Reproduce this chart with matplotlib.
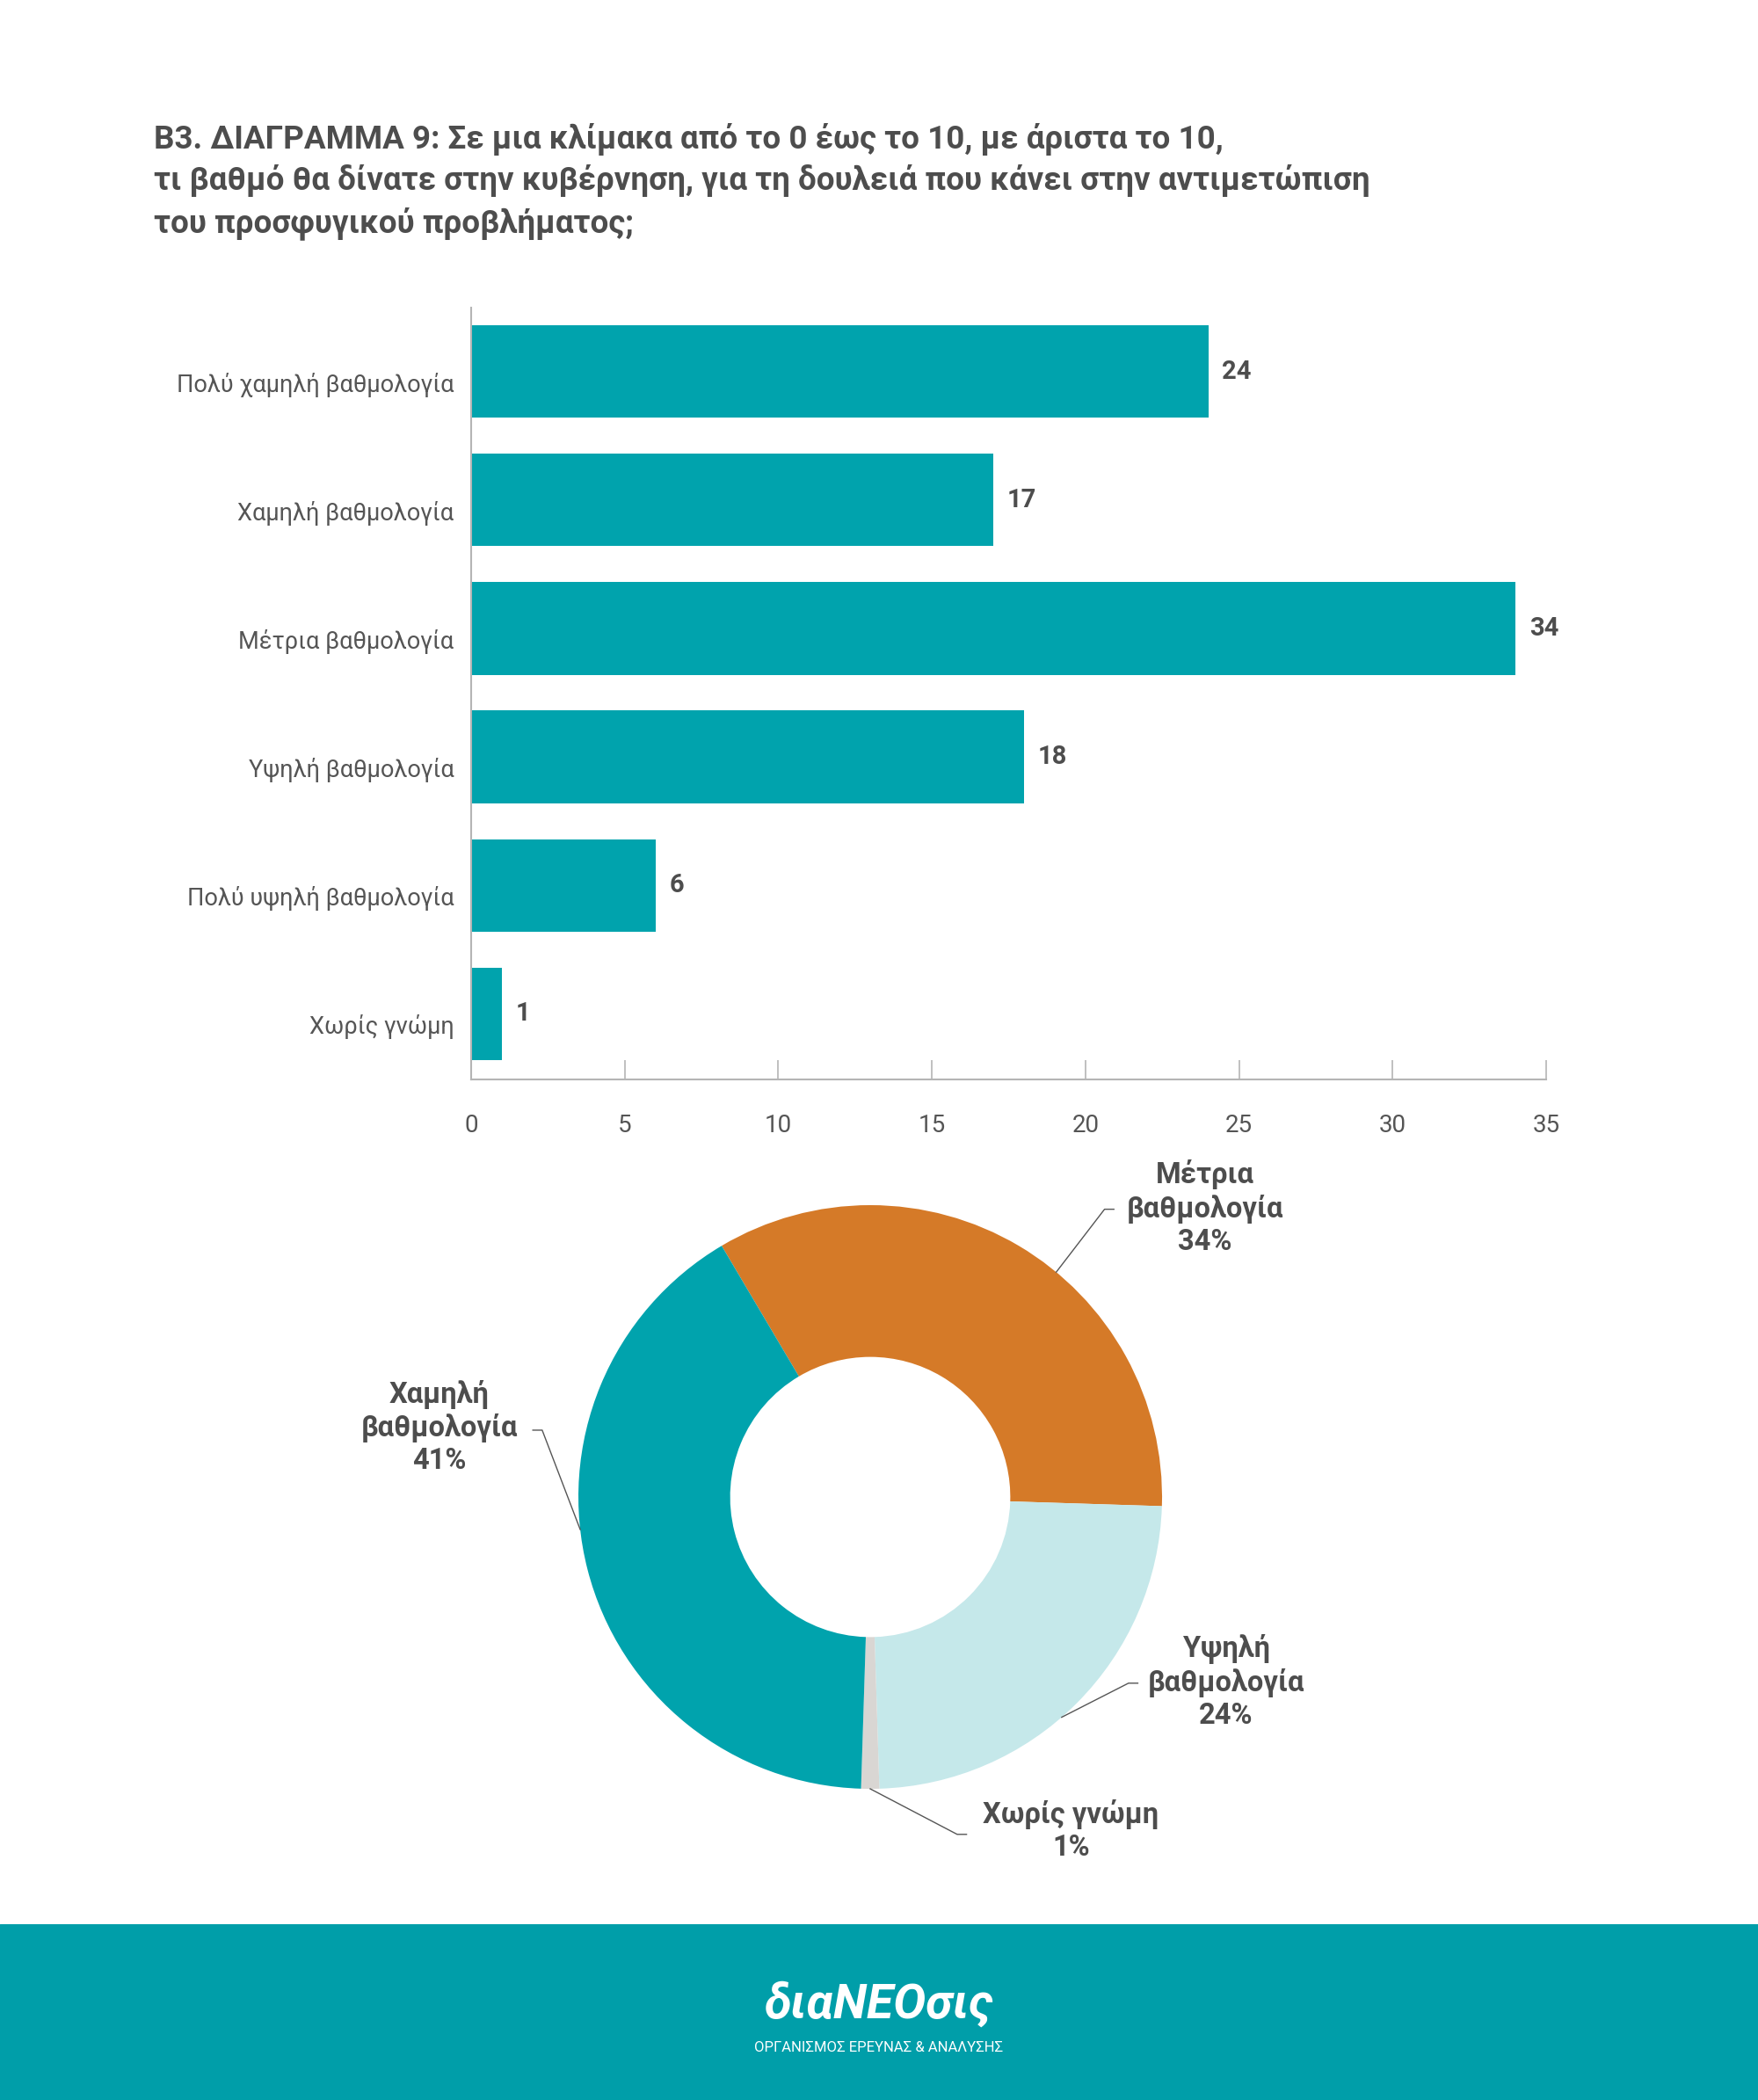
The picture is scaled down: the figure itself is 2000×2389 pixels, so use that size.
import numpy as np
import matplotlib
matplotlib.use("Agg")
import matplotlib.pyplot as plt
import matplotlib.transforms as mtransforms

plt.rcParams['font.family'] = ['Roboto', 'DejaVu Sans']

# bar chart data
categories = ["Πολύ χαμηλή βαθμολογία", "Χαμηλή βαθμολογία", "Μέτρια βαθμολογία",
              "Υψηλή βαθμολογία", "Πολύ υψηλή βαθμολογία", "Χωρίς γνώμη"]
values = [24, 17, 34, 18, 6, 1]
xticks = [0, 5, 10, 15, 20, 25, 30, 35]

# donut data (clockwise order from upper left)
donut_labels = ["Μέτρια\nβαθμολογία", "Υψηλή\nβαθμολογία", "Χωρίς γνώμη", "Χαμηλή\nβαθμολογία"]
donut_values = [34, 24, 1, 41]

title = ("Β3. ΔΙΑΓΡΑΜΜΑ 9: Σε μια κλίμακα από το 0 έως το 10, με άριστα το 10,\n"
         "τι βαθμό θα δίνατε στην κυβέρνηση, για τη δουλειά που κάνει στην αντιμετώπιση\n"
         "του προσφυγικού προβλήματος;")

TEAL = '#00A3AD'
ORANGE = '#D57A28'
LIGHT = '#C5E8EA'
GREY = '#D9D6D3'
TXT = '#4D4D4D'
AX = '#B5B5B5'

W, H = 2000, 2389
fig = plt.figure(figsize=(W / 100, H / 100), dpi=100)
fig.patch.set_facecolor('white')

fig.text(175 / W, 1 - 140 / H, title, ha='left', va='top', fontsize=26.5,
         fontweight='bold', color=TXT, linespacing=1.36)

# ---- bar chart ----
ax = fig.add_axes([536 / W, 1 - 1228 / H, (1759 - 536) / W, (1228 - 350) / H])
y = np.arange(len(categories))
ax.barh(y, values, height=0.72, color=TEAL)
ax.set_ylim(5.51, -0.496)
ax.set_xlim(0, 35)
ax.set_xticks(xticks)
ax.set_yticks(y)
ax.set_yticklabels(categories)
for s in ['top', 'right']:
    ax.spines[s].set_visible(False)
for s in ['left', 'bottom']:
    ax.spines[s].set_color(AX)
    ax.spines[s].set_linewidth(1.5)
ax.tick_params(axis='x', direction='in', length=16, width=1.2, color=AX,
               labelsize=20, labelcolor='#555555', pad=28)
ax.tick_params(axis='y', length=0, labelsize=19.5, labelcolor='#555555', pad=14)
# category labels sit a little below the bar centres
shift = mtransforms.ScaledTranslation(0, -12 / 100, fig.dpi_scale_trans)
for lab in ax.get_yticklabels():
    lab.set_transform(lab.get_transform() + shift)
for yi, v in zip(y, values):
    ax.text(v + 0.45, yi, str(v), va='center', ha='left', fontsize=21,
            fontweight='bold', color=TXT)

# ---- donut ----
cx, cy, R = 990, 1703, 332
side = 1000
L = side / 2 / R
dax = fig.add_axes([(cx - side / 2) / W, 1 - (cy + side / 2) / H, side / W, side / H])
wedges, _ = dax.pie(donut_values, colors=[ORANGE, LIGHT, GREY, TEAL], startangle=120.6,
                    counterclock=False, radius=1, wedgeprops=dict(width=0.52, linewidth=0))
dax.set_xlim(-L, L)
dax.set_ylim(-L, L)
dax.set_aspect('equal')
dax.axis('off')

total = sum(donut_values)
text_pos = [(1.147, 0.991), (1.220, -0.633), (0.688, -1.142), (-1.477, 0.239)]
elbows = [(0.803, 0.986), (0.885, -0.638), (0.298, -1.156), (-1.124, 0.229)]
anchor_shift = [-9, -4, 0, -8]   # degrees from wedge middle where the leader touches
stub_dir = [1, 1, 1, -1]
for w, lab, v, tp, el, sh, sd in zip(wedges, donut_labels, donut_values, text_pos, elbows,
                                     anchor_shift, stub_dir):
    mid = np.deg2rad((w.theta1 + w.theta2) / 2 + sh)
    px, py = np.cos(mid), np.sin(mid)
    dax.plot([px, el[0], el[0] + sd * 0.032], [py, el[1], el[1]], color='#555555', lw=1)
    dax.text(tp[0], tp[1], f"{lab}\n{round(100 * v / total)}%", ha='center', va='center',
             fontsize=23.5, fontweight='bold', color=TXT, linespacing=1.2)

# ---- footer ----
fax = fig.add_axes([0, 0, 1, (H - 2189) / H])
fax.set_xlim(0, 1)
fax.set_ylim(0, 1)
fax.axis('off')
fax.add_patch(plt.Rectangle((0, 0), 1, 1, color='#009EA9'))
fax.text(0.5, 1 - (2280 - 2189) / (H - 2189), "διαNEOσις", ha='center', va='center',
         fontsize=40, fontweight='bold', fontstyle='italic', color='white')
fax.text(0.5, 1 - (2329 - 2189) / (H - 2189), "ΟΡΓΑΝΙΣΜΟΣ ΕΡΕΥΝΑΣ & ΑΝΑΛΥΣΗΣ", ha='center',
         va='center', fontsize=12, color='white')

fig.savefig('out.png', dpi=100, facecolor='white')
